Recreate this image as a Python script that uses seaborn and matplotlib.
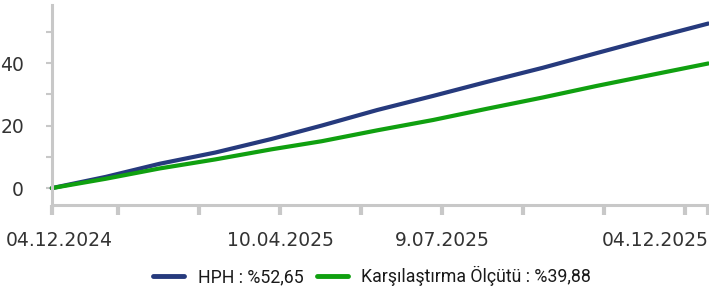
import pandas as pd
import numpy as np
import matplotlib.pyplot as plt
import matplotlib.transforms as mtransforms
import seaborn as sns

# Values (days since 04.12.2024, cumulative return %)
days = [0, 30, 60, 91, 122, 150, 181, 212, 242, 273, 303, 334, 365]
hph = [0.0, 3.6, 7.8, 11.4, 15.7, 20.0, 25.0, 29.5, 34.0, 38.5, 43.2, 48.0, 52.65]
benchmark = [0.0, 3.0, 6.3, 9.2, 12.4, 15.0, 18.5, 21.8, 25.4, 29.0, 32.7, 36.3, 39.88]

series_names = ["HPH : %52,65", "Karşılaştırma Ölçütü : %39,88"]
colors = ["#263a7d", "#10a010"]

tick_days = [0, 37, 82, 127, 172, 217, 262, 307, 352, 365]
tick_labels = ["04.12.2024", "", "", "10.04.2025", "", "9.07.2025", "", "", "", "04.12.2025"]

df = pd.DataFrame({
    "gun": days * 2,
    "getiri": hph + benchmark,
    "seri": [series_names[0]] * len(days) + [series_names[1]] * len(days),
})

sns.set_style("white")
plt.rcParams['font.family'] = ['DejaVu Sans']

fig = plt.figure(figsize=(7.09, 2.90), dpi=100)
ax = fig.add_axes([0.073, 0.293, 0.926, 0.69])

sns.lineplot(data=df, x="gun", y="getiri", hue="seri", palette=colors,
             linewidth=3, ax=ax, legend=False)

ax.set_xlim(0, 365)
ax.set_ylim(-5.4, 58.6)
ax.set_xlabel("")
ax.set_ylabel("")

ax.set_yticks([0, 20, 40])
ax.set_yticks([10, 30, 50], minor=True)
ax.set_xticks(tick_days)
ax.set_xticklabels(tick_labels)

for s in ["top", "right"]:
    ax.spines[s].set_visible(False)
for s in ["left", "bottom"]:
    ax.spines[s].set_color("#c8c8c8")
    ax.spines[s].set_linewidth(2.2)

ax.tick_params(axis='y', which='both', direction='out', length=4, width=1.5,
               color="#c8c8c8", labelsize=13.5, labelcolor="#333333", pad=16, left=True)
ax.tick_params(axis='x', which='major', direction='out', length=7.5, width=3,
               color="#c8c8c8", labelsize=13.5, labelcolor="#333333", pad=11, bottom=True)

# keep the end labels inside the figure
xl = ax.get_xticklabels()
xl[0].set_horizontalalignment('left')
xl[0].set_transform(xl[0].get_transform() + mtransforms.ScaledTranslation(-0.46, 0, fig.dpi_scale_trans))
xl[-1].set_horizontalalignment('right')

for line in ax.get_lines():
    line.set_clip_on(False)

handles = [plt.Line2D([], [], color=c, linewidth=3.5) for c in colors]
fig.legend(handles, series_names, loc='center', bbox_to_anchor=(0.525, 0.048),
           ncol=2, frameon=False, handlelength=1.75, handletextpad=0.75,
           columnspacing=0.75, prop={'family': 'Roboto', 'size': 12.8})
for t in fig.legends[0].get_texts():
    t.set_color("#1a1a1a")

fig.savefig("out.png", dpi=100)
